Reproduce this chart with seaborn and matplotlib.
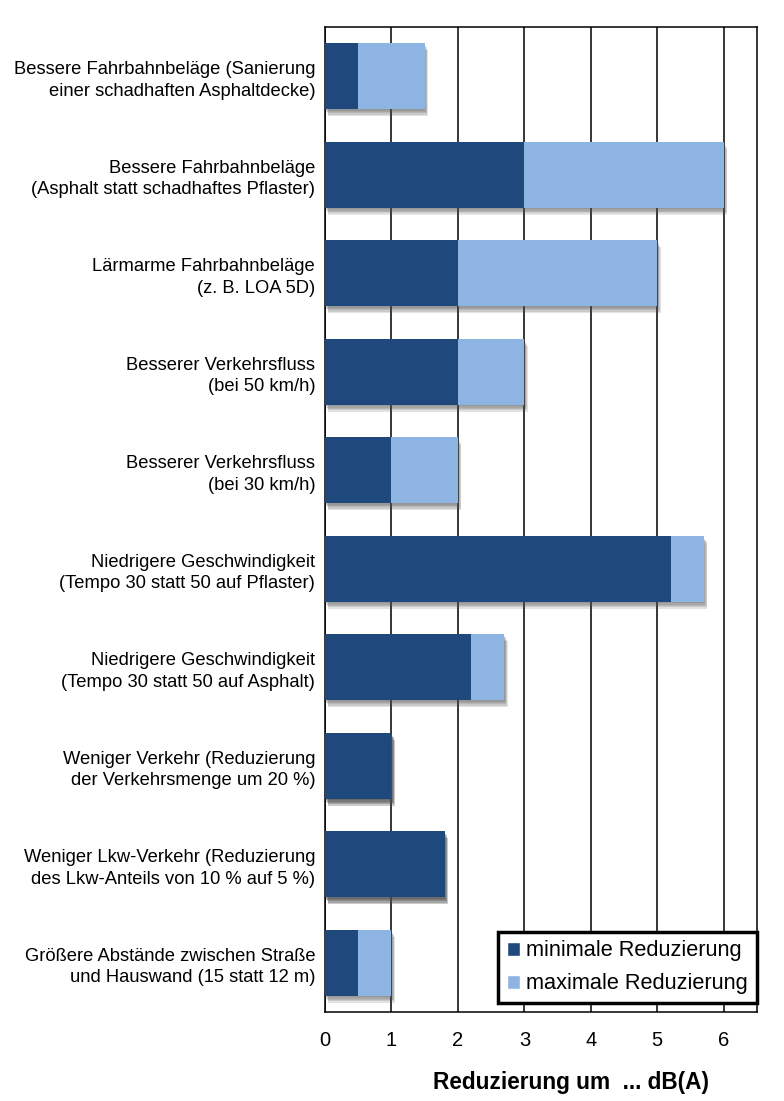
import matplotlib
matplotlib.use("Agg")
import matplotlib.pyplot as plt
import matplotlib.patheffects as pe
from matplotlib.patches import Patch
import seaborn as sns
import pandas as pd

categories = [
    "Bessere Fahrbahnbeläge (Sanierung\neiner schadhaften Asphaltdecke)",
    "Bessere Fahrbahnbeläge\n(Asphalt statt schadhaftes Pflaster)",
    "Lärmarme Fahrbahnbeläge\n(z. B. LOA 5D)",
    "Besserer Verkehrsfluss\n(bei 50 km/h)",
    "Besserer Verkehrsfluss\n(bei 30 km/h)",
    "Niedrigere Geschwindigkeit\n(Tempo 30 statt 50 auf Pflaster)",
    "Niedrigere Geschwindigkeit\n(Tempo 30 statt 50 auf Asphalt)",
    "Weniger Verkehr (Reduzierung\nder Verkehrsmenge um 20 %)",
    "Weniger Lkw-Verkehr (Reduzierung\ndes Lkw-Anteils von 10 % auf 5 %)",
    "Größere Abstände zwischen Straße\nund Hauswand (15 statt 12 m)",
]
min_red = [0.5, 3.0, 2.0, 2.0, 1.0, 5.2, 2.2, 1.0, 1.8, 0.5]
max_red = [1.5, 6.0, 5.0, 3.0, 2.0, 5.7, 2.7, 1.0, 1.8, 1.0]
x_ticks = [0, 1, 2, 3, 4, 5, 6]

dark = "#1F497D"
light = "#8EB4E3"

df = pd.DataFrame({"Massnahme": categories, "min": min_red, "max": max_red})

sns.set_style("white")
plt.rcParams["font.family"] = ["Liberation Sans", "DejaVu Sans"]
plt.rcParams["text.color"] = "black"
plt.rcParams["xtick.color"] = "black"
plt.rcParams["ytick.color"] = "black"
plt.rcParams["axes.labelcolor"] = "black"

fig = plt.figure(figsize=(7.84, 11.01), dpi=100)
ax = fig.add_axes([0.4145, 0.0808, 0.551, 0.8947])

# soft drop shadow built from a few stacked translucent layers
shadow = [pe.SimplePatchShadow(offset=(o * 0.5, -o), shadow_rgbFace="#505050", alpha=0.16)
          for o in (1.0, 2.0, 3.0, 4.0, 5.0)] + [pe.Normal()]

sns.barplot(data=df, y="Massnahme", x="max", color=light, orient="h",
            width=0.67, saturation=1, linewidth=0, ax=ax, zorder=3)
sns.barplot(data=df, y="Massnahme", x="min", color=dark, orient="h",
            width=0.67, saturation=1, linewidth=0, ax=ax, zorder=4)

n = len(categories)
for p in ax.patches[:n]:
    p.set_path_effects(shadow)
for p, mn, mx in zip(ax.patches[n:], min_red, max_red):
    if mn >= mx:
        p.set_path_effects(shadow)

ax.set_xlim(0, 6.5)
ax.set_ylim(n - 0.5, -0.5)
ax.set_xticks(x_ticks)
ax.set_xticklabels([str(t) for t in x_ticks], fontsize=14.5)
ax.grid(axis="x", color="black", linewidth=1.1, zorder=0)
ax.set_axisbelow(True)

for s in ax.spines.values():
    s.set_visible(True)
    s.set_color("black")
    s.set_linewidth(1.1)

ax.tick_params(axis="x", direction="out", length=6, width=1.1, color="black", pad=8)
ax.tick_params(axis="y", length=0, pad=7)
for lbl in ax.get_yticklabels():
    lbl.set_fontsize(13.2)
    lbl.set_linespacing(1.35)
    lbl.set_horizontalalignment("right")
    lbl.set_multialignment("right")
    lbl.set_color("black")

ax.set_ylabel("")
ax.set_xlabel("Reduzierung um  ... dB(A)", fontsize=16.3, fontweight="bold")
ax.xaxis.set_label_coords(0.569, -0.060)

handles = [Patch(facecolor=dark, label="minimale Reduzierung"),
           Patch(facecolor=light, label="maximale Reduzierung")]
leg = ax.legend(handles=handles, loc="lower right", bbox_to_anchor=(1.0, 0.009),
                fontsize=15.7, frameon=True, fancybox=False, framealpha=1,
                handlelength=0.6, handleheight=0.6, handletextpad=0.3,
                borderpad=0.4, labelspacing=0.55, borderaxespad=0.0)
leg.get_frame().set_edgecolor("black")
leg.get_frame().set_linewidth(2.5)
leg.set_zorder(10)

fig.savefig("out.png", dpi=100)
